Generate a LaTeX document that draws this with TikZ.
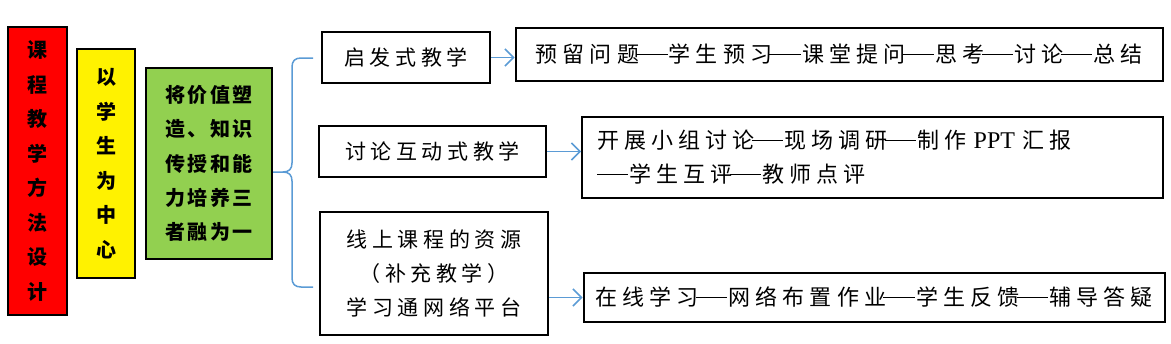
\documentclass[tikz,border=0pt]{standalone}
\usepackage{fontspec}
\newfontfamily\cjk[LetterSpace=22]{Noto Sans CJK SC}
\newfontfamily\cjkr[LetterSpace=23]{Noto Sans CJK SC}
\newfontfamily\cjkg[LetterSpace=12]{Noto Sans CJK SC}
\newfontfamily\cjkv{Noto Sans CJK SC}
\newfontfamily\tnr{Liberation Serif}
\newcommand\cjdash{\kern-0.12em\rule[0.36em]{1.42em}{0.06em}\kern0.06em}
\usetikzlibrary{arrows.meta}
\definecolor{lnblue}{HTML}{5B9BD5}
\definecolor{grn}{HTML}{92D050}
\begin{document}
\begin{tikzpicture}[x=1pt,y=-1pt,
  box/.style={draw=black,line width=2pt,rectangle,inner sep=0pt,align=center},
  vbox/.style={box,font=\cjkv\bfseries\fontsize{20}{34.5}\selectfont},
  gbox/.style={box,font=\cjkg\bfseries\fontsize{20}{34.3}\selectfont},
  tbox/.style={box,font=\cjk\fontsize{21}{34}\selectfont},
  rbox/.style={box,font=\cjkr\fontsize{22}{34}\selectfont},
  conn/.style={draw=lnblue,line width=1.5pt},
  arr/.style={conn,-{Straight Barb[length=8.5pt,width=17pt,line width=1.5pt]}}]
\useasboundingbox (0,0) rectangle (1171,343);
\node[vbox,fill=red,minimum width=59,minimum height=288] (red) at (37.5,171)
  {课\\程\\教\\学\\方\\法\\设\\计};
\node[vbox,fill=yellow,minimum width=58,minimum height=229] (yel) at (106,163.5)
  {以\\学\\生\\为\\中\\心};
\node[gbox,fill=grn,minimum width=126,minimum height=191] (grn) at (209,163.5)
  {将价值塑\\造、知识\\传授和能\\力培养三\\者融为一};
\node[tbox,minimum width=168,minimum height=51] (b1) at (406,57.5) {启发式教学};
\node[tbox,minimum width=227,minimum height=51] (b2) at (432.5,151.5) {讨论互动式教学};
\node[tbox,minimum width=228,minimum height=123] (b3) at (434,273.5)
  {线上课程的资源\\（补充教学）\\学习通网络平台};
\node[rbox,minimum width=647,minimum height=53] (r1) at (839,54.5)
  {预留问题\cjdash 学生预习\cjdash 课堂提问\cjdash 思考\cjdash 讨论\cjdash 总结};
\node[rbox,minimum width=581,minimum height=81,align=left,text width=551] (r2) at (872.5,157.5)
  {开展小组讨论\cjdash 现场调研\cjdash 制作 {\tnr\fontsize{24}{34}\selectfont PPT} 汇报\\\kern0.12em\cjdash 学生互评\cjdash 教师点评};
\node[rbox,minimum width=581,minimum height=49] (r3) at (874,297.5)
  {在线学习\cjdash 网络布置作业\cjdash 学生反馈\cjdash 辅导答疑};
\coordinate (bm) at (292,172);
\coordinate (bt) at (313,58);
\coordinate (bb) at (313,287);
\draw[conn] (grn.east |- bm) -- (283,172)
  .. controls (289,172) and (292,169) .. (292,163) -- (292,67)
  .. controls (292,61) and (295,58) .. (301,58) -- (bt);
\draw[conn] (283,172)
  .. controls (289,172) and (292,175) .. (292,181) -- (292,278)
  .. controls (292,284) and (295,287) .. (301,287) -- (bb);
\draw[arr] (b1.east) -- (b1.east -| r1.west);
\draw[arr] (b2.east) -- (b2.east -| r2.west);
\draw[arr] (r3.west -| b3.east) -- (r3.west);
\end{tikzpicture}
\end{document}
